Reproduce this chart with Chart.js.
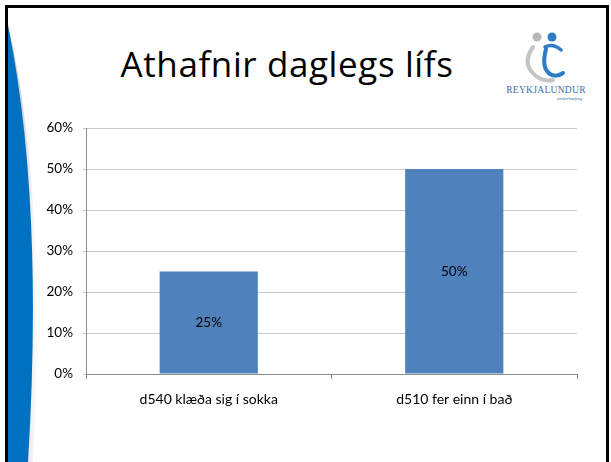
<!DOCTYPE html>
<html>
<head>
<meta charset="utf-8">
<script src="https://cdn.jsdelivr.net/npm/chart.js@4/dist/chart.umd.min.js"></script>
<style>
  html, body { margin: 0; padding: 0; background: #fff; }
  #wrap { position: relative; width: 611px; height: 462px; overflow: hidden; background: #fff; }
  #deco { position: absolute; left: 0; top: 0; }
  #title { position: absolute; left: 87px; width: 400px; top: 44px; text-align: center;
           font-family: "Open Sans", Lato, sans-serif; font-size: 35px; line-height: 40px; letter-spacing: 0.6px; color: #000; }
  #c { position: absolute; left: 0; top: 0; }
  #logoText { position: absolute; left: 500px; top: 85px; width: 92px; text-align: center;
              font-family: "Liberation Serif", "DejaVu Serif", serif; font-size: 9.5px; color: #3f6fa6; letter-spacing: 0.3px; }
  #logoSub { position: absolute; left: 557px; top: 96px; font-family: "Liberation Serif", serif; font-style: italic;
             font-size: 5px; color: #3f6fa6; }
</style>
</head>
<body>
<div id="wrap">
  <svg id="deco" width="611" height="462" viewBox="0 0 611 462">
    <defs>
      <linearGradient id="shade" x1="0" y1="0" x2="1" y2="0">
        <stop offset="0" stop-color="#a9a9a9"/>
        <stop offset="1" stop-color="#ffffff"/>
      </linearGradient>
    </defs>
    <path d="M8,24 Q48,200 33,462 L8,462 Z" fill="url(#shade)" opacity="0.9"/>
    <path d="M8,26 Q44,200 28,462 L8,462 Z" fill="#0070c0"/>
    <rect x="6.5" y="6.5" width="601" height="470" fill="none" stroke="#000" stroke-width="3"/>
    <circle cx="537" cy="37" r="4.5" fill="#b7b7b7"/>
    <circle cx="552" cy="37" r="4.5" fill="#2e7dc4"/>
    <path d="M533,47 Q521,64 536,76 Q544,82 553,80" fill="none" stroke="#c4c4c4" stroke-width="4" stroke-linecap="round"/>
    <path d="M545,47 Q553,43 561,50" fill="none" stroke="#2e7dc4" stroke-width="3.5" stroke-linecap="round"/>
    <path d="M546,49 Q541,68 550,74 Q556,78 563,73" fill="none" stroke="#2e7dc4" stroke-width="4" stroke-linecap="round"/>
  </svg>
  <div id="title">Athafnir daglegs lífs</div>
  <div id="logoText">REYKJALUNDUR</div>
  <div id="logoSub">endurhæfing</div>
  <canvas id="c" width="611" height="462"></canvas>
</div>
<script>
const categories = ["d540 klæða sig í sokka", "d510 fer einn í bað"];
const values = [25, 50];
const yTicks = [0, 10, 20, 30, 40, 50, 60];

const valueLabels = {
  id: 'valueLabels',
  afterDatasetsDraw(chart) {
    const ctx = chart.ctx;
    const meta = chart.getDatasetMeta(0);
    ctx.save();
    ctx.font = '13.5px Lato, "Open Sans", sans-serif';
    ctx.fillStyle = '#000';
    ctx.textAlign = 'center';
    ctx.textBaseline = 'middle';
    meta.data.forEach((el, i) => {
      ctx.fillText(values[i] + '%', el.x, (el.y + el.base) / 2);
    });
    ctx.restore();
  }
};

new Chart(document.getElementById('c'), {
  type: 'bar',
  data: {
    labels: categories,
    datasets: [{
      data: values,
      backgroundColor: '#4f81bd',
      borderWidth: 0,
      barPercentage: 0.4,
      categoryPercentage: 1.0
    }]
  },
  options: {
    responsive: false,
    animation: false,
    events: [],
    layout: { padding: { top: 128, right: 34, left: 0, bottom: 0 } },
    plugins: { legend: { display: false }, tooltip: { enabled: false }, title: { display: false } },
    scales: {
      x: {
        afterFit(s) { s.height = 88; },
        grid: { display: true, drawOnChartArea: false, drawTicks: true, tickLength: 5, color: '#8c8c8c', offset: true },
        border: { display: true, color: '#8c8c8c', width: 1 },
        ticks: { color: '#000', font: { family: 'Lato, "Open Sans", sans-serif', size: 14 }, padding: 12, maxRotation: 0 }
      },
      y: {
        min: 0, max: 60,
        afterFit(s) { s.width = 86; },
        afterBuildTicks(s) { s.ticks = yTicks.map(v => ({ value: v })); },
        grid: { color: '#c8c8c8', tickLength: 3, drawTicks: true },
        border: { display: true, color: '#8c8c8c', width: 1 },
        ticks: { color: '#000', font: { family: 'Lato, "Open Sans", sans-serif', size: 13.5 }, padding: 10,
                 callback: v => v + '%' }
      }
    }
  },
  plugins: [valueLabels]
});
</script>
</body>
</html>
